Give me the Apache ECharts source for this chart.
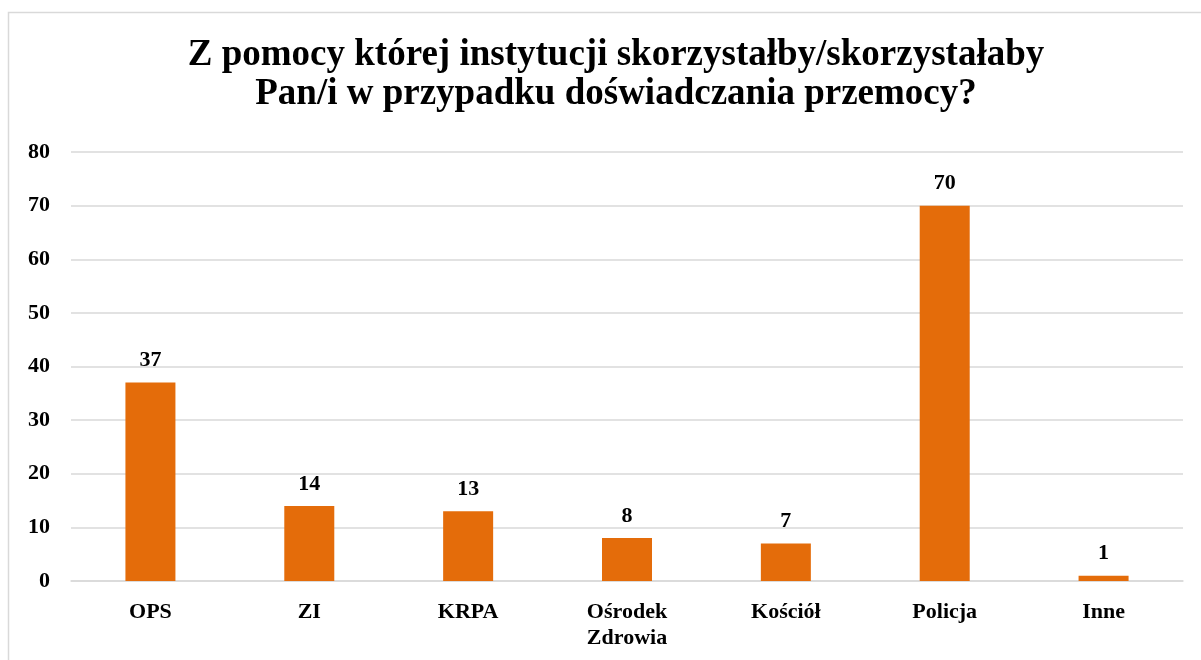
<!DOCTYPE html>
<html>
<head>
<meta charset="utf-8">
<script src="https://cdn.jsdelivr.net/npm/echarts@6/dist/echarts.min.js"></script>
<style>
  html, body { margin: 0; padding: 0; background: #fff; }
  #chart { width: 1201px; height: 660px; }
</style>
</head>
<body>
<div id="chart"></div>
<script>
// Institutions respondents would turn to when experiencing violence
const categories = ['OPS', 'ZI', 'KRPA', 'Ośrodek\nZdrowia', 'Kościół', 'Policja', 'Inne'];
const counts = [37, 14, 13, 8, 7, 70, 1];
const yTicks = { min: 0, max: 80, interval: 10 };
const titleText = 'Z pomocy której instytucji skorzystałby/skorzystałaby\nPan/i w przypadku doświadczania przemocy?';

const serif = '"Liberation Serif", "Times New Roman", serif';
const chart = echarts.init(document.getElementById('chart'));

chart.setOption({
  animation: false,
  backgroundColor: '#ffffff',
  graphic: [{
    type: 'rect',
    shape: { x: 8.5, y: 12.5, width: 1220, height: 700 },
    style: { fill: 'none', stroke: '#d9d9d9', lineWidth: 1.5 },
    silent: true,
    z: -1
  }],
  title: {
    text: titleText,
    left: 611,
    textAlign: 'center',
    top: 31,
    textStyle: {
      fontFamily: serif,
      fontWeight: 'bold',
      fontSize: 37,
      lineHeight: 39,
      color: '#000'
    }
  },
  grid: { left: 71, right: 18, top: 152, bottom: 79, containLabel: false },
  xAxis: {
    type: 'category',
    data: categories,
    axisLine: { show: true, lineStyle: { color: '#d9d9d9', width: 1.5 } },
    axisTick: { show: false },
    axisLabel: {
      fontFamily: serif,
      fontWeight: 'bold',
      fontSize: 22,
      lineHeight: 26,
      color: '#000',
      margin: 18,
      interval: 0
    }
  },
  yAxis: {
    type: 'value',
    min: yTicks.min,
    max: yTicks.max,
    interval: yTicks.interval,
    axisLine: { show: false },
    axisTick: { show: false },
    splitLine: { lineStyle: { color: '#d9d9d9', width: 1.5 } },
    axisLabel: {
      fontFamily: serif,
      fontWeight: 'bold',
      fontSize: 22,
      color: '#000',
      margin: 21
    }
  },
  series: [{
    type: 'bar',
    data: counts,
    barWidth: 50,
    itemStyle: { color: '#E46C0A' },
    label: {
      show: true,
      position: 'top',
      distance: 11,
      fontFamily: serif,
      fontWeight: 'bold',
      fontSize: 22,
      color: '#000'
    }
  }]
});
</script>
</body>
</html>
